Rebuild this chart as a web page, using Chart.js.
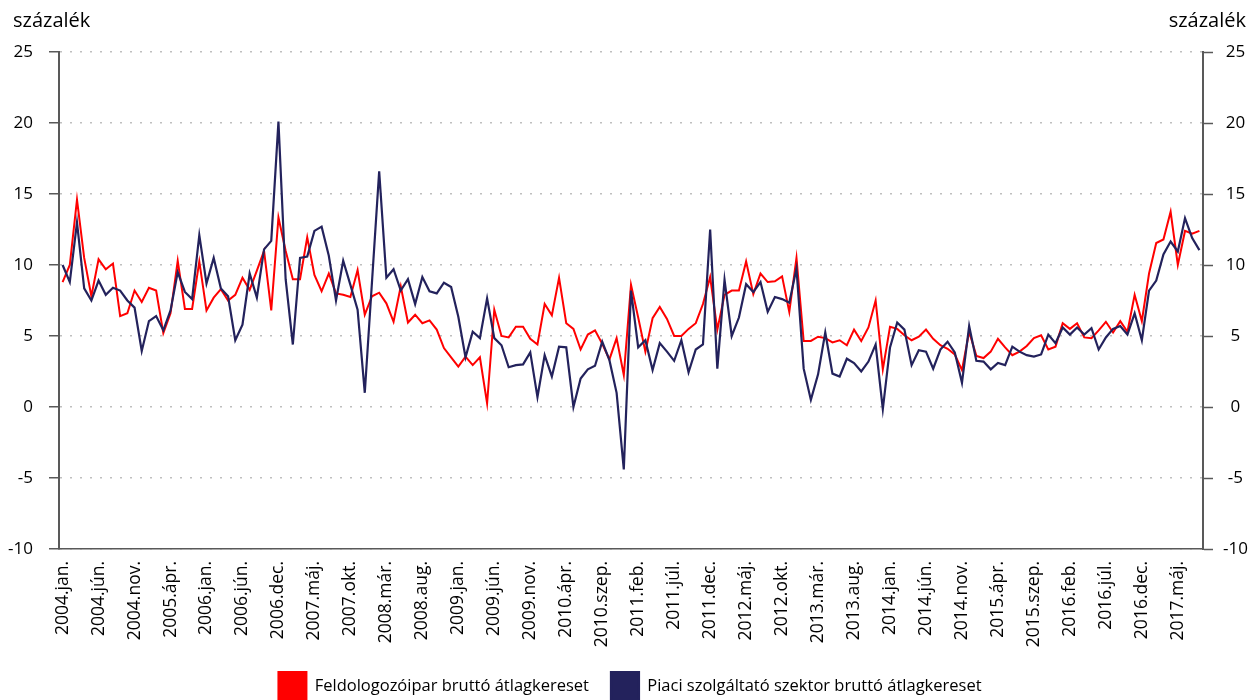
<!DOCTYPE html>
<html lang="hu">
<head>
<meta charset="utf-8">
<title>Bruttó átlagkereset</title>
<script src="https://cdn.jsdelivr.net/npm/chart.js@4/dist/chart.umd.min.js"></script>
<style>
  html, body { margin: 0; padding: 0; background: #fff; }
  #wrap { width: 1260px; height: 700px; }
</style>
</head>
<body>
<div id="wrap"><canvas id="keresetChart" width="1260" height="700"></canvas></div>
<script>
// x tengely feliratai (minden 5. hónapnál)
const tickLabels = [
  '2004.jan.', '2004.jún.', '2004.nov.', '2005.ápr.', '2006.jan.', '2006.jún.',
  '2006.dec.', '2007.máj.', '2007.okt.', '2008.már.', '2008.aug.', '2009.jan.',
  '2009.jún.', '2009.nov.', '2010.ápr.', '2010.szep.', '2011.feb.', '2011.júl.',
  '2011.dec.', '2012.máj.', '2012.okt.', '2013.már.', '2013.aug.', '2014.jan.',
  '2014.jún.', '2014.nov.', '2015.ápr.', '2015.szep.', '2016.feb.', '2016.júl.',
  '2016.dec.', '2017.máj.'
];

// Feldolgozóipar, éves változás (%)
const feldolgozoipar = [
  8.8, 10.0, 14.6, 10.5, 7.8, 10.4, 9.7, 10.1, 6.4, 6.6,
  8.2, 7.4, 8.4, 8.2, 5.2, 6.6, 10.3, 6.9, 6.9, 10.25,
  6.8, 7.7, 8.3, 7.5, 7.9, 9.1, 8.25, 9.6, 11.0, 6.8,
  13.35, 11.0, 9.0, 9.0, 11.95, 9.3, 8.15, 9.4, 8.0, 7.9,
  7.75, 9.65, 6.5, 7.8, 8.05, 7.3, 6.0, 8.5, 5.95, 6.5,
  5.9, 6.1, 5.45, 4.15, 3.5, 2.85, 3.55, 2.95, 3.5, 0.25,
  6.85, 5.0, 4.9, 5.65, 5.65, 4.8, 4.4, 7.25, 6.45, 9.1,
  5.9, 5.5, 4.05, 5.1, 5.4, 4.45, 3.35, 4.85, 2.25, 8.6,
  6.3, 3.9, 6.25, 7.05, 6.2, 5.0, 5.0, 5.5, 5.9, 7.25,
  9.15, 5.45, 7.9, 8.2, 8.2, 10.25, 7.95, 9.4, 8.8, 8.85,
  9.2, 6.7, 10.5, 4.65, 4.65, 4.95, 4.85, 4.55, 4.7, 4.35,
  5.45, 4.65, 5.6, 7.5, 2.65, 5.65, 5.5, 5.05, 4.7, 4.95,
  5.45, 4.8, 4.35, 4.1, 3.7, 2.6, 5.3, 3.6, 3.45, 3.9,
  4.8, 4.2, 3.65, 3.9, 4.3, 4.85, 5.05, 4.05, 4.25, 5.9,
  5.5, 5.9, 4.9, 4.85, 5.4, 6.0, 5.25, 6.05, 5.3, 7.9,
  6.05, 9.4, 11.55, 11.8, 13.75, 10.0, 12.4, 12.2, 12.4
];

// Piaci szolgáltató szektor, éves változás (%)
const piaciSzolgaltatas = [
  10.0, 8.8, 13.0, 8.35, 7.5, 8.9, 7.9, 8.4, 8.2, 7.5,
  7.0, 3.95, 6.05, 6.4, 5.4, 6.8, 9.5, 8.1, 7.6, 12.1,
  8.7, 10.5, 8.35, 7.8, 4.7, 5.8, 9.4, 7.7, 11.1, 11.7,
  20.1, 9.0, 4.4, 10.5, 10.6, 12.4, 12.7, 10.65, 7.5, 10.3,
  8.6, 6.85, 1.0, 8.8, 16.6, 9.1, 9.7, 8.2, 9.0, 7.25,
  9.15, 8.15, 8.0, 8.75, 8.45, 6.35, 3.5, 5.3, 4.85, 7.65,
  4.85, 4.35, 2.8, 2.95, 3.0, 3.85, 0.7, 3.65, 2.15, 4.25,
  4.2, 0.0, 2.0, 2.65, 2.9, 4.6, 3.3, 1.0, -4.4, 8.2,
  4.2, 4.7, 2.6, 4.5, 3.9, 3.25, 4.7, 2.45, 4.05, 4.4,
  12.5, 2.7, 8.95, 5.0, 6.3, 8.65, 8.1, 8.8, 6.7, 7.75,
  7.6, 7.35, 9.75, 2.7, 0.5, 2.3, 5.25, 2.35, 2.15, 3.4,
  3.1, 2.5, 3.2, 4.4, -0.15, 4.2, 5.95, 5.45, 2.95, 4.0,
  3.9, 2.7, 4.05, 4.6, 3.85, 1.7, 5.7, 3.25, 3.2, 2.65,
  3.1, 2.95, 4.25, 3.9, 3.65, 3.55, 3.7, 5.1, 4.5, 5.6,
  5.1, 5.6, 5.1, 5.55, 4.05, 4.9, 5.5, 5.7, 5.1, 6.6,
  4.7, 8.2, 8.9, 10.75, 11.65, 10.95, 13.3, 11.9, 11.05
];

const yMin = -10;
const yMax = 25;
const yStep = 5;

// kategóriák: csak minden 5. hónap kap feliratot
const labels = feldolgozoipar.map((_, i) => (i % 5 === 0 ? tickLabels[i / 5] : ''));

const FONT = "'Open Sans', sans-serif";
const AXIS_COLOR = '#595959';

// "százalék" felirat a két tengely fölé
const unitLabels = {
  id: 'unitLabels',
  afterDraw(chart) {
    const ctx = chart.ctx;
    ctx.save();
    ctx.font = '20px ' + FONT;
    ctx.fillStyle = '#000';
    ctx.textBaseline = 'alphabetic';
    ctx.textAlign = 'left';
    ctx.fillText('százalék', 13, 27);
    ctx.textAlign = 'right';
    ctx.fillText('százalék', 1246, 27);
    ctx.restore();
  }
};

const ctx = document.getElementById('keresetChart').getContext('2d');
new Chart(ctx, {
  type: 'line',
  data: {
    labels: labels,
    datasets: [{
      label: 'Feldologozóipar bruttó átlagkereset',
      data: feldolgozoipar,
      borderColor: '#ff0000',
      backgroundColor: '#ff0000',
      borderWidth: 2,
      pointRadius: 0,
      tension: 0,
      order: 1
    }, {
      label: 'Piaci szolgáltató szektor bruttó átlagkereset',
      data: piaciSzolgaltatas,
      borderColor: '#23225c',
      backgroundColor: '#23225c',
      borderWidth: 2.2,
      pointRadius: 0,
      tension: 0,
      order: 0
    }]
  },
  options: {
    responsive: false,
    animation: false,
    layout: { padding: { top: 52, right: 0, bottom: -10, left: 0 } },
    plugins: {
      tooltip: { enabled: false },
      legend: {
        position: 'bottom',
        labels: {
          boxWidth: 28,
          boxHeight: 28,
          padding: 22,
          color: '#000',
          font: { family: FONT, size: 16.5 },
          sort: (a, b) => a.datasetIndex - b.datasetIndex
        }
      }
    },
    scales: {
      x: {
        offset: true,
        grid: { display: false, drawTicks: false },
        border: { display: true, color: AXIS_COLOR, width: 1.5 },
        ticks: {
          autoSkip: false,
          minRotation: 90,
          maxRotation: 90,
          padding: 12,
          color: '#000',
          font: { family: FONT, size: 17.5 }
        },
        afterFit(scale) { scale.height = 101; }
      },
      y: {
        position: 'left',
        min: yMin,
        max: yMax,
        ticks: {
          stepSize: yStep,
          padding: 16,
          color: '#000',
          font: { family: FONT, size: 17 }
        },
        grid: {
          color: '#bfbfbf',
          lineWidth: 1.5,
          tickLength: 10,
          tickColor: AXIS_COLOR,
          tickWidth: 1.5
        },
        border: { display: true, color: AXIS_COLOR, width: 2, dash: [2, 8] },
        afterFit(scale) { scale.width = 59; }
      },
      y2: {
        position: 'right',
        min: yMin,
        max: yMax,
        ticks: {
          stepSize: yStep,
          padding: 10,
          crossAlign: 'center',
          color: '#000',
          font: { family: FONT, size: 17 }
        },
        grid: {
          drawOnChartArea: false,
          tickLength: 10,
          tickColor: AXIS_COLOR,
          tickWidth: 1.5
        },
        border: { display: true, color: AXIS_COLOR, width: 2 },
        afterFit(scale) { scale.width = 57; }
      }
    }
  },
  plugins: [unitLabels]
});
</script>
</body>
</html>
